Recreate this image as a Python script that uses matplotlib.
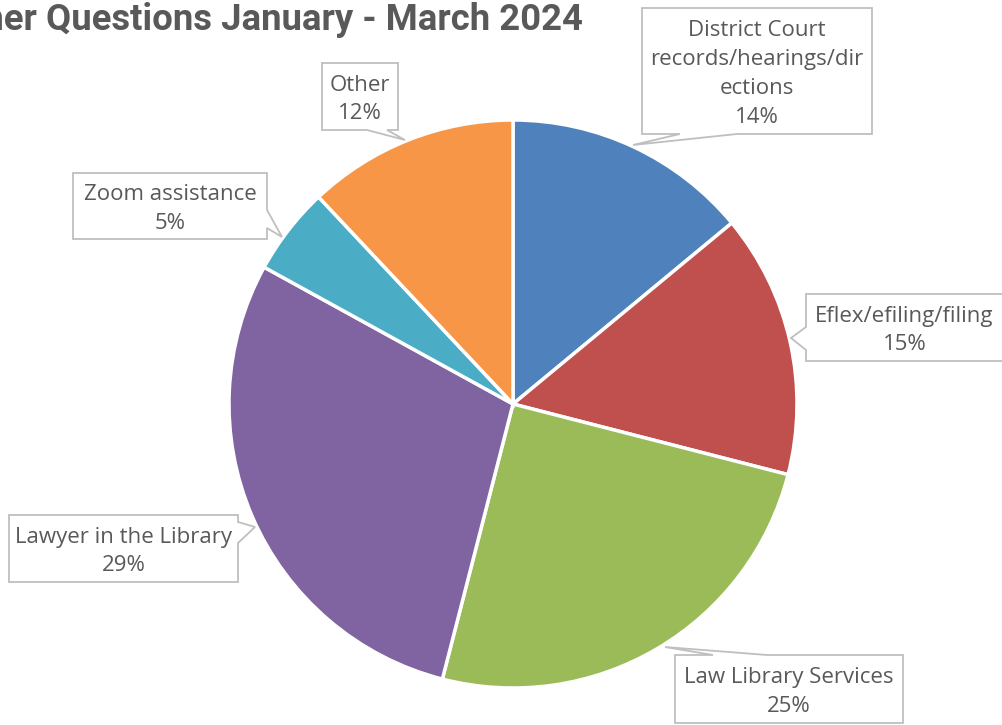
import numpy as np
import matplotlib
matplotlib.use("Agg")
from matplotlib import pyplot as plt
from matplotlib.patches import Polygon

# Question categories and their share of the total (percent)
categories = ['District Court\nrecords/hearings/dir\nections',
              'Eflex/efiling/filing',
              'Law Library Services',
              'Lawyer in the Library',
              'Zoom assistance',
              'Other']
shares = [14, 15, 25, 29, 5, 12]
colors = ['#4F81BD', '#C0504D', '#9BBB59', '#8064A2', '#4BACC6', '#F79646']
title = 'Other Questions January - March 2024'

W, H = 1003, 725
TEXT = '#595959'
EDGE = '#BFBFBF'

fig = plt.figure(figsize=(W / 100, H / 100), dpi=100)
ax = fig.add_axes([0, 0, 1, 1])

def fy(y):
    # screen-style y (down) to axis y (up)
    return H - y

ax.pie(shares, colors=colors, startangle=90, counterclock=False,
       center=(513, fy(404)), radius=284,
       wedgeprops=dict(edgecolor='white', linewidth=2.5))

# pie() resets the limits, so set the pixel frame afterwards
ax.set_xlim(0, W)
ax.set_ylim(0, H)
ax.set_aspect('equal')
ax.axis('off')

# callout boxes: (x0, y0, x1, y1), side of pointer, pointer base (a, b), tip
callouts = [
    ((642, 8, 872, 134), 'bottom', (680, 737), (633, 145)),
    ((806, 294, 1010, 361), 'left', (327, 350), (791, 338)),
    ((675, 655, 903, 723), 'top', (713, 767), (665, 647)),
    ((9, 515, 238, 582), 'right', (522, 543), (255, 527)),
    ((73, 173, 267, 239), 'right', (210, 228), (282, 237)),
    ((322, 63, 398, 130), 'bottom', (367, 387), (405, 140)),
]

def callout_shape(box, side, base, tip):
    x0, y0, x1, y1 = box
    a, b = base
    if side == 'top':
        pts = [(x0, y0), (a, y0), tip, (b, y0), (x1, y0), (x1, y1), (x0, y1)]
    elif side == 'bottom':
        pts = [(x0, y0), (x1, y0), (x1, y1), (b, y1), tip, (a, y1), (x0, y1)]
    elif side == 'left':
        pts = [(x0, y0), (x1, y0), (x1, y1), (x0, y1), (x0, b), tip, (x0, a)]
    else:
        pts = [(x0, y0), (x1, y0), (x1, a), tip, (x1, b), (x1, y1), (x0, y1)]
    return [(px, fy(py)) for px, py in pts]

for name, share, (box, side, base, tip) in zip(categories, shares, callouts):
    ax.add_patch(Polygon(callout_shape(box, side, base, tip), closed=True,
                         facecolor='white', edgecolor=EDGE, linewidth=1.3,
                         zorder=3))
    x0, y0, x1, y1 = box
    cx = (x0 + min(x1, W)) / 2 if x1 > W else (x0 + x1) / 2
    ax.text(cx, fy((y0 + y1) / 2 + 3), f'{name}\n{share}%', ha='center',
            va='center', fontsize=16, color=TEXT, family='Open Sans',
            linespacing=1.48, zorder=4)

ax.text(583, fy(20), title, ha='right', va='center', fontsize=26.3,
        fontweight='bold', color=TEXT, family='Roboto')

fig.savefig('out.png', dpi=100)
